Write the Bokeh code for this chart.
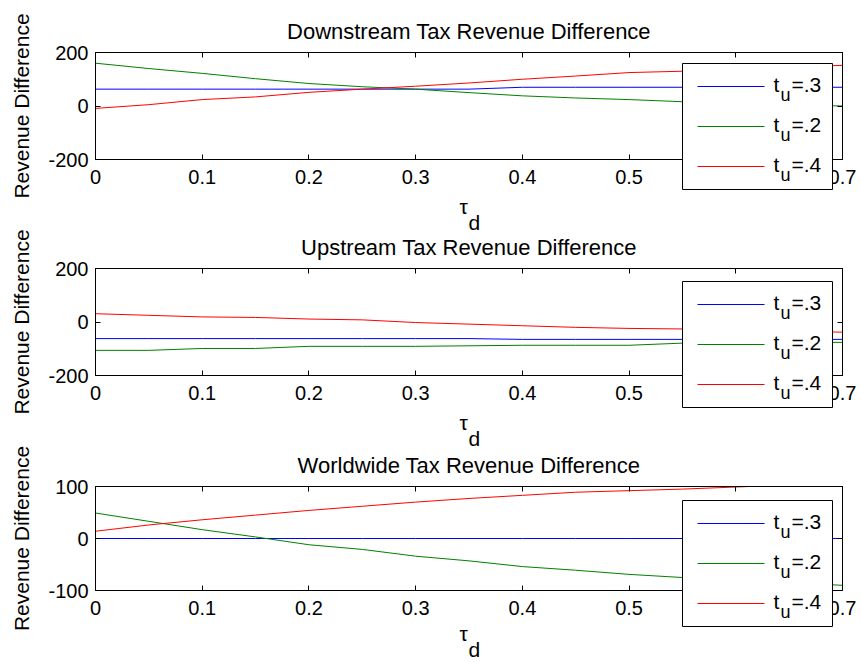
from bokeh.plotting import figure
from bokeh.layouts import column
from bokeh.models import Range1d, FixedTicker, LinearAxis, Label
from bokeh.embed import file_html
from bokeh.resources import INLINE

# ---------------- data ----------------
tau_d = [0.00, 0.05, 0.10, 0.15, 0.20, 0.25, 0.30, 0.35, 0.40, 0.45, 0.50, 0.55, 0.60, 0.65, 0.70]

down_tu3 = [63, 63, 63, 63, 63, 63, 63, 63, 70, 70, 70, 70, 70, 70, 70]
down_tu2 = [160, 140, 122, 102, 84, 72, 63, 50, 38, 30, 24, 16, 10, 5, 0]
down_tu4 = [-9, 5, 24, 34, 51, 63, 74, 86, 100, 112, 125, 130, 138, 145, 152]

up_tu3 = [-62, -62, -62, -62, -62, -62, -62, -62, -65, -65, -65, -65, -65, -65, -65]
up_tu2 = [-106, -106, -99, -99, -91, -91, -91, -89, -87, -87, -87, -79, -78, -77, -76]
up_tu4 = [31, 25, 19, 17, 11, 8, -2, -8, -14, -20, -24, -26, -30, -34, -38]

world_tu3 = [0, 0, 0, 0, 0, 0, 0, 0, 0, 0, 0, 0, 0, 0, 0]
world_tu2 = [49, 33, 17, 3, -12, -21, -34, -43, -54, -61, -69, -75, -80, -85, -90]
world_tu4 = [14, 26, 36, 45, 54, 62, 70, 77, 83, 89, 92, 95, 99, 103, 106]

titles = ["Downstream Tax Revenue Difference",
          "Upstream Tax Revenue Difference",
          "Worldwide Tax Revenue Difference"]
y_label = "Revenue Difference"
x_label = "\u03c4\u2002\n\u2002d"          # tau with subscript d
x_ticks = [0, 0.1, 0.2, 0.3, 0.4, 0.5, 0.6, 0.7]
x_tick_labels = ["0", "0.1", "0.2", "0.3", "0.4", "0.5", "0.6", "0.7"]
y_ticks_200 = [-200, 0, 200]
y_tick_labels_200 = ["-200", "0", "200"]
y_ticks_100 = [-100, 0, 100]
y_tick_labels_100 = ["-100", "0", "100"]
legend_main = ["t", "t", "t"]
legend_sub = ["u", "u", "u"]
legend_rest = ["=.3", "=.2", "=.4"]
series_colors = ["#0000FF", "#008000", "#FF0000"]

FONT = "Liberation Sans"


def style_axis(ax, show_labels=True, standoff=5):
    ax.axis_line_color = "black"
    ax.axis_line_width = 1
    ax.major_tick_line_color = "black"
    ax.major_tick_in = 5
    ax.major_tick_out = 0
    ax.minor_tick_line_color = None
    ax.major_label_text_font = FONT
    if show_labels:
        ax.major_label_text_color = "black"
        ax.major_label_text_font_size = "20px"
        ax.major_label_standoff = standoff
    else:
        ax.major_label_text_color = None
        ax.major_label_text_font_size = "1px"
        ax.major_label_standoff = 0


def make_panel(title, ylim, yticks, ylabels, series, frame_h, b_top, b_bottom, top_margin, xl_standoff):
    p = figure(frame_width=747, frame_height=frame_h,
               x_range=Range1d(0, 0.7), y_range=Range1d(ylim[0], ylim[1]),
               output_backend="svg", toolbar_location=None,
               min_border_left=95, min_border_right=17,
               min_border_top=b_top, min_border_bottom=b_bottom,
               margin=(top_margin, 0, 0, 0))
    p.background_fill_color = "white"
    p.border_fill_alpha = 0
    p.outline_line_color = "black"
    p.outline_line_width = 1
    p.xgrid.visible = False
    p.ygrid.visible = False

    p.title.text = title
    p.title.text_font = FONT
    p.title.text_font_size = "22px"
    p.title.text_font_style = "normal"
    p.title.text_color = "black"
    p.title.align = "center"
    p.title.standoff = 17

    xa = p.xaxis[0]
    xa.ticker = FixedTicker(ticks=x_ticks)
    xa.major_label_overrides = {v: s for v, s in zip(x_ticks, x_tick_labels)}
    style_axis(xa, True, 10)
    xa.axis_label = x_label
    xa.axis_label_text_font = FONT
    xa.axis_label_text_font_size = "21px"
    xa.axis_label_text_font_style = "normal"
    xa.axis_label_text_color = "black"
    xa.axis_label_text_line_height = 0.7
    xa.axis_label_standoff = xl_standoff

    ya = p.yaxis[0]
    ya.ticker = FixedTicker(ticks=yticks)
    ya.major_label_overrides = {v: s for v, s in zip(yticks, ylabels)}
    style_axis(ya, True, 7)
    ya.axis_label = y_label
    ya.axis_label_text_font = FONT
    ya.axis_label_text_font_size = "21px"
    ya.axis_label_text_font_style = "normal"
    ya.axis_label_text_color = "black"
    ya.axis_label_standoff = 12

    top = LinearAxis(ticker=FixedTicker(ticks=x_ticks))
    style_axis(top, False)
    p.add_layout(top, "above")
    right = LinearAxis(ticker=FixedTicker(ticks=yticks))
    style_axis(right, False)
    p.add_layout(right, "right")

    for vals, col in zip(series, series_colors):
        p.line(tau_d, vals, line_color=col, line_width=1)
    return p


def make_legend_overlay(top_margin):
    # transparent overlay with the same horizontal geometry as the panels;
    # it carries the legend box that overhangs the lower axis of a panel.
    # its data space is in pixels: x from the frame's left edge, y from the overlay's bottom.
    L = figure(frame_width=747, frame_height=150, title=None,
               x_range=Range1d(0, 747), y_range=Range1d(0, 150),
               output_backend="svg", toolbar_location=None,
               min_border_left=95, min_border_right=17,
               min_border_top=0, min_border_bottom=0,
               x_axis_location=None, y_axis_location=None,
               margin=(top_margin, 0, 0, 0))
    L.background_fill_alpha = 0
    L.border_fill_alpha = 0
    L.outline_line_color = None
    L.xgrid.visible = False
    L.ygrid.visible = False
    # legend box
    L.quad(left=[587], right=[737], bottom=[17], top=[143],
           fill_color="white", line_color="black", line_width=1)
    key_y = [120 - 40 * i for i in range(3)]
    L.segment(x0=[602, 602, 602], y0=key_y, x1=[669, 669, 669], y1=key_y,
              line_color=series_colors, line_width=1)
    for i in range(3):
        yc = key_y[i]
        L.add_layout(Label(x=678, y=yc + 2, text=legend_main[i], text_font=FONT,
                           text_font_size="21px", text_baseline="alphabetic",
                           text_align="left", text_color="black"))
        L.add_layout(Label(x=685, y=yc - 8, text=legend_sub[i], text_font=FONT,
                           text_font_size="18px", text_baseline="alphabetic",
                           text_align="left", text_color="black"))
        L.add_layout(Label(x=696, y=yc + 2, text=legend_rest[i], text_font=FONT,
                           text_font_size="21px", text_baseline="alphabetic",
                           text_align="left", text_color="black"))
    return L


s1 = [down_tu3, down_tu2, down_tu4]
s2 = [up_tu3, up_tu2, up_tu4]
s3 = [world_tu3, world_tu2, world_tu4]

# page layout (px): frames at y 52/268/486; legend boxes' top at 63/281/498
p1 = make_panel(titles[0], (-200, 200), y_ticks_200, y_tick_labels_200, s1, 107, 52, 80, 0, 8)         # 0..239
L1 = make_legend_overlay(56 - 239)                                                                      # 56..206
p2 = make_panel(titles[1], (-200, 200), y_ticks_200, y_tick_labels_200, s2, 107, 48, 80, 220 - 206, 8)  # 220..455
L2 = make_legend_overlay(274 - 455)                                                                     # 274..424
p3 = make_panel(titles[2], (-100, 100), y_ticks_100, y_tick_labels_100, s3, 104, 48, 71, 438 - 424, 4)  # 438..661
L3 = make_legend_overlay(491 - 661)                                                                     # 491..641

layout = column(p1, L1, p2, L2, p3, L3, spacing=0)
open("out.html", "w").write(file_html(layout, INLINE))
